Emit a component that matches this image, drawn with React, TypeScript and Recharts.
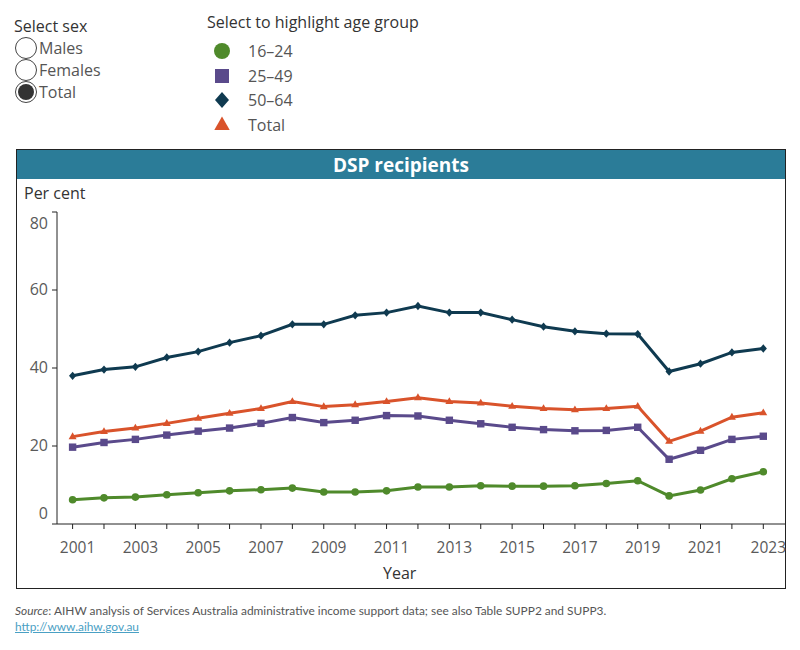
import React from 'react';
import { LineChart, Line, XAxis, YAxis } from 'recharts';

// Disability Support Pension recipients, per cent, by age group
const years = [2001, 2002, 2003, 2004, 2005, 2006, 2007, 2008, 2009, 2010, 2011, 2012, 2013, 2014, 2015, 2016, 2017, 2018, 2019, 2020, 2021, 2022, 2023];
const age16to24 = [6.2, 6.7, 6.9, 7.5, 8.0, 8.5, 8.8, 9.2, 8.2, 8.2, 8.5, 9.5, 9.5, 9.8, 9.7, 9.7, 9.8, 10.4, 11.1, 7.2, 8.7, 11.6, 13.4];
const age25to49 = [19.7, 20.9, 21.7, 22.8, 23.8, 24.6, 25.8, 27.3, 26.0, 26.6, 27.8, 27.7, 26.6, 25.7, 24.8, 24.2, 23.9, 24.0, 24.8, 16.6, 18.9, 21.7, 22.5];
const age50to64 = [38.0, 39.6, 40.3, 42.7, 44.2, 46.5, 48.3, 51.2, 51.2, 53.5, 54.2, 55.9, 54.2, 54.2, 52.4, 50.6, 49.4, 48.8, 48.7, 39.1, 41.1, 44.0, 45.0];
const totalAll = [22.4, 23.7, 24.6, 25.8, 27.1, 28.4, 29.6, 31.4, 30.1, 30.6, 31.4, 32.4, 31.4, 31.0, 30.2, 29.6, 29.3, 29.6, 30.2, 21.2, 23.8, 27.4, 28.5];
const yTicks = [0, 20, 40, 60, 80];
const sexOptions = ['Males', 'Females', 'Total'];
const ageGroups = ['16–24', '25–49', '50–64', 'Total'];

const GREEN = '#4f8a2b';
const PURPLE = '#5a4a8b';
const NAVY = '#0f3a50';
const ORANGE = '#d9532b';
const TEAL = '#2b7c98';
const FONT = '"Open Sans", "Noto Sans", sans-serif';
const NOTE_FONT = 'Lato, "Noto Sans", sans-serif';

const rows = years.map((year, i) => ({
  year,
  a1624: age16to24[i],
  a2549: age25to49[i],
  a5064: age50to64[i],
  total: totalAll[i],
}));

type Shape = 'circle' | 'square' | 'diamond' | 'triangle';

function Marker({ cx, cy, shape, color, size }: { cx: number; cy: number; shape: Shape; color: string; size: number }) {
  if (cx == null || cy == null) return null;
  const s = size;
  if (shape === 'circle') return <circle cx={cx} cy={cy} r={s} fill={color} />;
  if (shape === 'square') return <rect x={cx - s} y={cy - s} width={s * 2} height={s * 2} fill={color} />;
  if (shape === 'diamond')
    return <polygon points={`${cx},${cy - s * 1.15} ${cx + s},${cy} ${cx},${cy + s * 1.15} ${cx - s},${cy}`} fill={color} />;
  return <polygon points={`${cx},${cy - s * 1.2} ${cx + s * 1.1},${cy + s * 0.7} ${cx - s * 1.1},${cy + s * 0.7}`} fill={color} />;
}

const dotFor = (shape: Shape, color: string, size: number) => (props: any) => (
  <Marker key={`${shape}-${props.index}`} cx={props.cx} cy={props.cy} shape={shape} color={color} size={size} />
);

function YTick(props: any) {
  const { x, y, payload } = props;
  const v = payload.value;
  const shift = v === 80 ? 12 : v === 0 ? -10 : 0;
  return (
    <text x={x - 2} y={y + shift} dy={5} textAnchor="end" fontSize={16} fill="#5a5a5a" fontFamily={FONT}>
      {v}
    </text>
  );
}

function XTick(props: any) {
  const { x, y, payload } = props;
  const v = payload.value;
  if (v % 2 === 0) return null;
  return (
    <text x={x + 5} y={y + 22} textAnchor="middle" fontSize={15.5} fill="#5a5a5a" fontFamily={FONT}>
      {v}
    </text>
  );
}

const legendShapes: [Shape, string, number][] = [
  ['circle', GREEN, 8],
  ['square', PURPLE, 7],
  ['diamond', NAVY, 7],
  ['triangle', ORANGE, 7],
];

export default function App() {
  return (
    <div style={{ position: 'absolute', left: 0, top: 0, width: 800, height: 650, background: '#fff', fontFamily: FONT }}>
      {/* sex selector */}
      <div style={{ position: 'absolute', left: 14, top: 15, fontSize: 16, color: '#333' }}>Select sex</div>
      {sexOptions.map((s, i) => (
        <div key={s} style={{ position: 'absolute', left: 14, top: 37 + i * 22, height: 22, display: 'flex', alignItems: 'center' }}>
          <svg width={24} height={24} style={{ display: 'block' }}>
            <circle cx={12} cy={12} r={10.5} fill="#fff" stroke="#444" strokeWidth={1} />
            {s === 'Total' && <circle cx={12} cy={12} r={8} fill="#333" />}
          </svg>
          <span style={{ fontSize: 16, color: '#555', marginLeft: 1 }}>{s}</span>
        </div>
      ))}

      {/* age group legend */}
      <div style={{ position: 'absolute', left: 207, top: 11, fontSize: 16, color: '#333' }}>Select to highlight age group</div>
      {ageGroups.map((g, i) => {
        const [shape, color, size] = legendShapes[i];
        return (
          <div key={g} style={{ position: 'absolute', left: 210, top: 39 + i * 24.5, height: 24, display: 'flex', alignItems: 'center' }}>
            <svg width={24} height={24} style={{ display: 'block' }}>
              <Marker cx={12} cy={12} shape={shape} color={color} size={size} />
            </svg>
            <span style={{ fontSize: 16, color: '#555', marginLeft: 14 }}>{g}</span>
          </div>
        );
      })}

      {/* chart frame */}
      <div style={{ position: 'absolute', left: 16, top: 149, width: 768, height: 438, border: '1px solid #222', boxSizing: 'content-box' }} />
      <div
        style={{
          position: 'absolute', left: 17, top: 150, width: 768, height: 29, background: TEAL, color: '#fff',
          fontWeight: 700, fontSize: 19, display: 'flex', alignItems: 'center', justifyContent: 'center',
        }}
      >
        DSP recipients
      </div>
      <div style={{ position: 'absolute', left: 24, top: 182, fontSize: 16, color: '#333' }}>Per cent</div>
      <div style={{ position: 'absolute', left: 383, top: 562, fontSize: 16, color: '#333' }}>Year</div>

      <div style={{ position: 'absolute', left: 0, top: 0 }}>
        <LineChart width={800} height={650} data={rows} margin={{ top: 212, right: 15, bottom: 96, left: 0 }}>
          <XAxis
            dataKey="year"
            type="number"
            domain={[2001, 2023]}
            ticks={years}
            interval={0}
            padding={{ left: 15.6, right: 21.7 }}
            axisLine={{ stroke: '#222' }}
            tickLine={{ stroke: '#222' }}
            tickSize={5}
            height={30}
            tick={<XTick />}
          />
          <YAxis
            domain={[0, 80]}
            ticks={yTicks}
            width={57}
            axisLine={{ stroke: '#222' }}
            tickLine={{ stroke: '#222' }}
            tickSize={5}
            tick={<YTick />}
          />
          <Line dataKey="a1624" stroke={GREEN} strokeWidth={3} dot={dotFor('circle', GREEN, 3.8)} activeDot={false} isAnimationActive={false} />
          <Line dataKey="a2549" stroke={PURPLE} strokeWidth={3} dot={dotFor('square', PURPLE, 3.7)} activeDot={false} isAnimationActive={false} />
          <Line dataKey="total" stroke={ORANGE} strokeWidth={3} dot={dotFor('triangle', ORANGE, 3.6)} activeDot={false} isAnimationActive={false} />
          <Line dataKey="a5064" stroke={NAVY} strokeWidth={3} dot={dotFor('diamond', NAVY, 3.6)} activeDot={false} isAnimationActive={false} />
        </LineChart>
      </div>

      {/* source note */}
      <div style={{ position: 'absolute', left: 15, top: 603, fontSize: 11.9, color: '#555', fontFamily: NOTE_FONT }}>
        <i>Source</i>: AIHW analysis of Services Australia administrative income support data; see also Table SUPP2 and SUPP3.
      </div>
      <div style={{ position: 'absolute', left: 15, top: 619, fontSize: 11.9, color: '#4aa0c4', textDecoration: 'underline', fontFamily: NOTE_FONT }}>
        http://www.aihw.gov.au
      </div>
    </div>
  );
}
